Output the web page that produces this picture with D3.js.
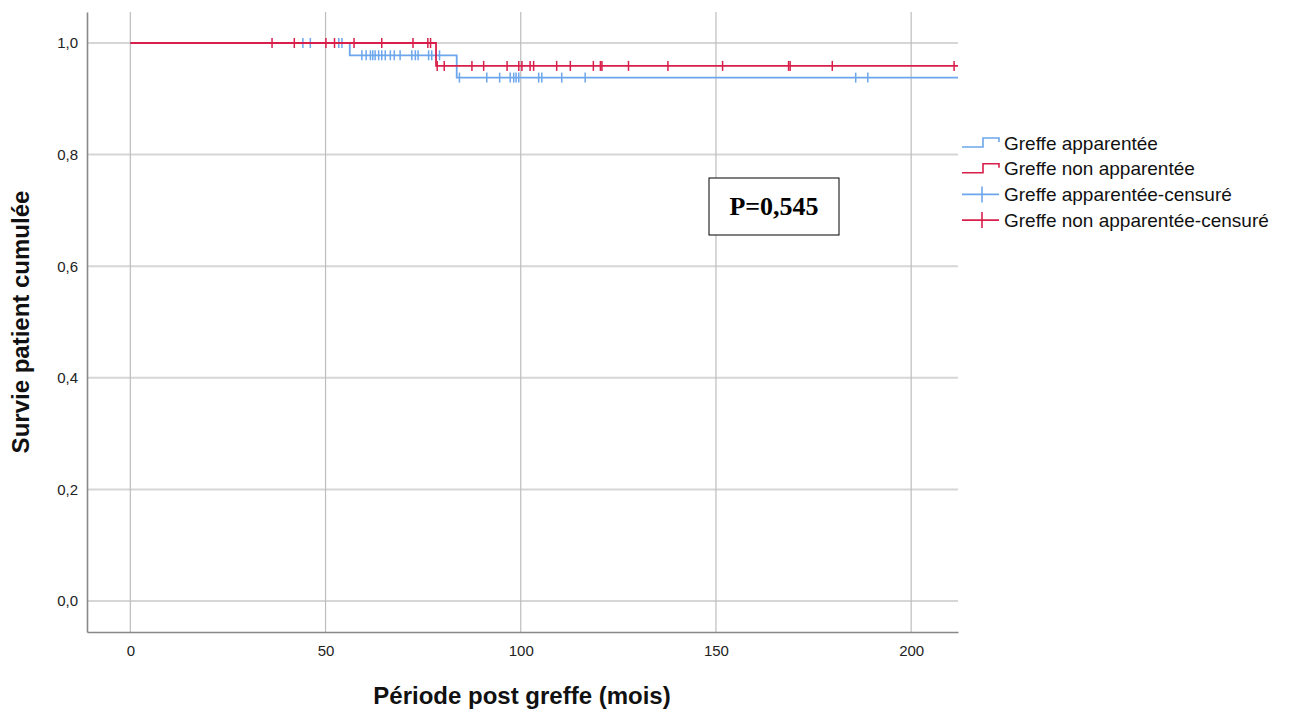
<!DOCTYPE html>
<html>
<head>
<meta charset="utf-8">
<script src="https://cdn.jsdelivr.net/npm/d3@7"></script>
<style>
  body { margin: 0; background: #fff; }
  text { font-family: "Liberation Sans", Arial, sans-serif; }
  .tick text { fill: #222; font-size: 15px; }
  .axisTitle { font-size: 24px; font-weight: bold; fill: #111; }
  .legend { font-size: 19px; fill: #111; }
</style>
</head>
<body>
<div id="chart"></div>
<script>
const width = 1290;
const height = 711;

// survival steps: [time (mois), survie]
const stepsApp    = [[0, 1], [56.2, 0.978], [83.6, 0.938], [212, 0.938]];
const stepsNonApp = [[0, 1], [78.3, 0.959], [212, 0.959]];

// censored times
const censApp = [44.2, 46.1, 53.4, 54.2, 59.3, 60.4, 61.5, 62.1, 62.7, 63.6, 64.4, 65.3,
  66.6, 67.6, 69.1, 72.1, 73.0, 73.7, 76.4, 77.2, 79.2, 84.3, 91.3, 94.6, 97.3, 98.2,
  98.8, 99.5, 104.6, 105.4, 110.5, 116.5, 185.8, 188.9];
const censNonApp = [36.3, 42.0, 50.1, 52.3, 57.3, 64.4, 72.4, 76.2, 76.9, 78.6, 80.4,
  87.5, 90.5, 96.5, 99.5, 100.3, 102.4, 103.3, 109.2, 112.7, 118.6, 120.4, 120.8,
  127.6, 137.7, 151.7, 168.6, 169.0, 179.8, 211.0];

const xTicks = [0, 50, 100, 150, 200];
const yTicks = [0, 0.2, 0.4, 0.6, 0.8, 1.0];

const legendLabels = ["Greffe apparentée", "Greffe non apparentée",
  "Greffe apparentée-censuré", "Greffe non apparentée-censuré"];

const blue = "#6ca6ec";
const red  = "#d81f4a";

const margin = {top: 12, right: 332, bottom: 79, left: 87};

const svg = d3.select("#chart").append("svg")
  .attr("width", width)
  .attr("height", height);

const x = d3.scaleLinear()
  .domain([-11.1, 212])
  .range([margin.left, width - margin.right]);

const y = d3.scaleLinear()
  .domain([-0.0556, 1.0556])
  .range([height - margin.bottom, margin.top]);

const fmt = d => d3.format(".1f")(d).replace(".", ",");

// gridlines
svg.append("g")
  .selectAll("line")
  .data(yTicks)
  .enter().append("line")
  .attr("x1", x.range()[0]).attr("x2", x.range()[1])
  .attr("y1", d => y(d)).attr("y2", d => y(d))
  .style("stroke", "#d6d6d6").style("stroke-width", 2);

svg.append("g")
  .selectAll("line")
  .data(xTicks)
  .enter().append("line")
  .attr("x1", d => x(d)).attr("x2", d => x(d))
  .attr("y1", y.range()[0]).attr("y2", y.range()[1])
  .style("stroke", "#bdbdbd").style("stroke-width", 1.2);

// axes
const xAxis = svg.append("g")
  .attr("transform", `translate(0,${height - margin.bottom})`)
  .call(d3.axisBottom(x).tickValues(xTicks).tickSize(0).tickPadding(13));
const yAxis = svg.append("g")
  .attr("transform", `translate(${margin.left},0)`)
  .call(d3.axisLeft(y).tickValues(yTicks).tickFormat(fmt).tickSize(0).tickPadding(9));
[xAxis, yAxis].forEach(a => {
  a.select(".domain").style("stroke", "#888").style("stroke-width", 1.6);
});

// survival curves
const stepLine = d3.line()
  .x(d => x(d[0]))
  .y(d => y(d[1]))
  .curve(d3.curveStepAfter);

function levelAt(steps, t) {
  let v = steps[0][1];
  steps.forEach(s => { if (s[0] <= t) v = s[1]; });
  return v;
}

function drawGroup(steps, cens, color) {
  svg.append("path")
    .datum(steps)
    .attr("d", stepLine)
    .style("fill", "none")
    .style("stroke", color)
    .style("stroke-width", 1.8);
  svg.append("g")
    .selectAll("line")
    .data(cens)
    .enter().append("line")
    .attr("x1", d => x(d)).attr("x2", d => x(d))
    .attr("y1", d => y(levelAt(steps, d)) - 5)
    .attr("y2", d => y(levelAt(steps, d)) + 5)
    .style("stroke", color)
    .style("stroke-width", 1.5);
}

drawGroup(stepsApp, censApp, blue);
drawGroup(stepsNonApp, censNonApp, red);

// axis titles
svg.append("text")
  .attr("class", "axisTitle")
  .attr("x", 522)
  .attr("y", 704)
  .style("text-anchor", "middle")
  .text("Période post greffe (mois)");

svg.append("text")
  .attr("class", "axisTitle")
  .attr("transform", `translate(29,${y(0.5)}) rotate(-90)`)
  .style("text-anchor", "middle")
  .text("Survie patient cumulée");

// legend
const legX = 962;
const legY = 143;
const legStep = 25.7;
const legColors = [blue, red, blue, red];

legendLabels.forEach((lab, i) => {
  const cy = legY + i * legStep;
  const g = svg.append("g");
  if (i < 2) {
    g.append("path")
      .attr("d", `M${legX},${cy + 4} H${legX + 21} V${cy - 5} H${legX + 37} V${cy - 1}`)
      .style("fill", "none").style("stroke", legColors[i]).style("stroke-width", 1.6);
  } else {
    g.append("line")
      .attr("x1", legX).attr("x2", legX + 37)
      .attr("y1", cy).attr("y2", cy)
      .style("stroke", legColors[i]).style("stroke-width", 1.6);
    g.append("line")
      .attr("x1", legX + 20).attr("x2", legX + 20)
      .attr("y1", cy - 8).attr("y2", cy + 8)
      .style("stroke", legColors[i]).style("stroke-width", 1.6);
  }
  g.append("text")
    .attr("class", "legend")
    .attr("x", legX + 42)
    .attr("y", cy)
    .attr("dy", "0.35em")
    .text(lab);
});

// p-value box
svg.append("rect")
  .attr("x", 709).attr("y", 178)
  .attr("width", 130).attr("height", 57)
  .style("fill", "#fff")
  .style("stroke", "#000")
  .style("stroke-width", 1);
svg.append("text")
  .attr("x", 774).attr("y", 206)
  .attr("dy", "0.35em")
  .style("text-anchor", "middle")
  .style("font-family", "'Liberation Serif', 'Times New Roman', serif")
  .style("font-weight", "bold")
  .style("font-size", "26px")
  .text("P=0,545");
</script>
</body>
</html>
